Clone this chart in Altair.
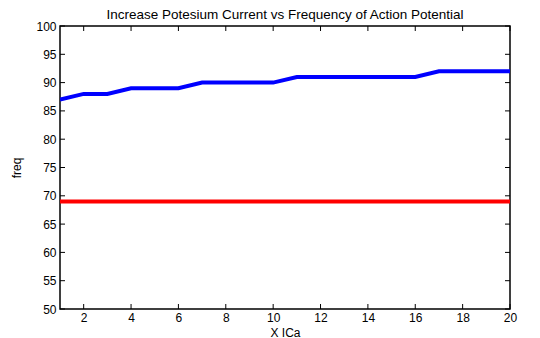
import altair as alt
import pandas as pd

# Sweep index for the ICa scaling factor
x_ica = list(range(1, 21))
# Firing frequency with increased potassium current
freq_increase = [87, 88, 88, 89, 89, 89, 90, 90, 90, 90,
                 91, 91, 91, 91, 91, 91, 92, 92, 92, 92]
# Baseline frequency
freq_base = [69] * 20

x_ticks = [2, 4, 6, 8, 10, 12, 14, 16, 18, 20]
y_ticks = [50, 55, 60, 65, 70, 75, 80, 85, 90, 95, 100]

W, H = 450, 283
FONT = "Liberation Sans"

df = pd.DataFrame({
    "x": x_ica * 2,
    "freq": freq_increase + freq_base,
    "series": ["increase"] * 20 + ["base"] * 20,
})

xscale = alt.Scale(domain=[1, 20], nice=False, zero=False)
yscale = alt.Scale(domain=[50, 100], nice=False, zero=False)

# Shared axis definitions so every layer merges into the same axis
x_axis = alt.Axis(title="X ICa", values=x_ticks, tickSize=0, labelPadding=3,
                  grid=False, domain=False, titlePadding=4,
                  labelOverlap=False, labelFlush=False)
y_axis = alt.Axis(title="freq", values=y_ticks, tickSize=0, labelPadding=4,
                  grid=False, domain=False, titlePadding=12,
                  labelOverlap=False, labelFlush=False)

lines = alt.Chart(df).mark_line(strokeWidth=4, clip=True).encode(
    x=alt.X("x:Q", scale=xscale, axis=x_axis, title="X ICa"),
    y=alt.Y("freq:Q", scale=yscale, axis=y_axis, title="freq"),
    color=alt.Color("series:N", scale=alt.Scale(domain=["increase", "base"],
                                                range=["#0000ff", "#ff0000"]),
                    legend=None),
    detail="series:N",
)

# Inward tick marks on all four sides of the box
xt = pd.DataFrame({"t": x_ticks})
yt = pd.DataFrame({"t": y_ticks})
tick_style = dict(color="black", strokeWidth=1)

xb = alt.Chart(xt).mark_rule(**tick_style).encode(
    x=alt.X("t:Q", scale=xscale, axis=x_axis, title="X ICa"),
    y=alt.value(H), y2=alt.value(H - 5))
xtop = alt.Chart(xt).mark_rule(**tick_style).encode(
    x=alt.X("t:Q", scale=xscale, axis=x_axis, title="X ICa"),
    y=alt.value(0), y2=alt.value(5))
yl = alt.Chart(yt).mark_rule(**tick_style).encode(
    y=alt.Y("t:Q", scale=yscale, axis=y_axis, title="freq"),
    x=alt.value(0), x2=alt.value(5))
yr = alt.Chart(yt).mark_rule(**tick_style).encode(
    y=alt.Y("t:Q", scale=yscale, axis=y_axis, title="freq"),
    x=alt.value(W), x2=alt.value(W - 5))

chart = alt.layer(lines, xb, xtop, yl, yr).properties(
    width=W, height=H,
    title=alt.TitleParams("Increase Potesium Current vs Frequency of Action Potential",
                          fontSize=13.5, font=FONT, fontWeight="normal", offset=-1),
    autosize=alt.AutoSizeParams(type="none"),
    padding={"left": 60, "top": 26, "right": 30, "bottom": 29},
    background="white",
).configure_view(
    stroke="black", strokeWidth=1.5
).configure_axis(
    labelFont=FONT, titleFont=FONT, labelFontSize=12, titleFontSize=12,
    labelColor="black", titleColor="black", titleFontWeight="normal",
)

chart.save("out.html", embed_options={"renderer": "svg", "actions": False})
